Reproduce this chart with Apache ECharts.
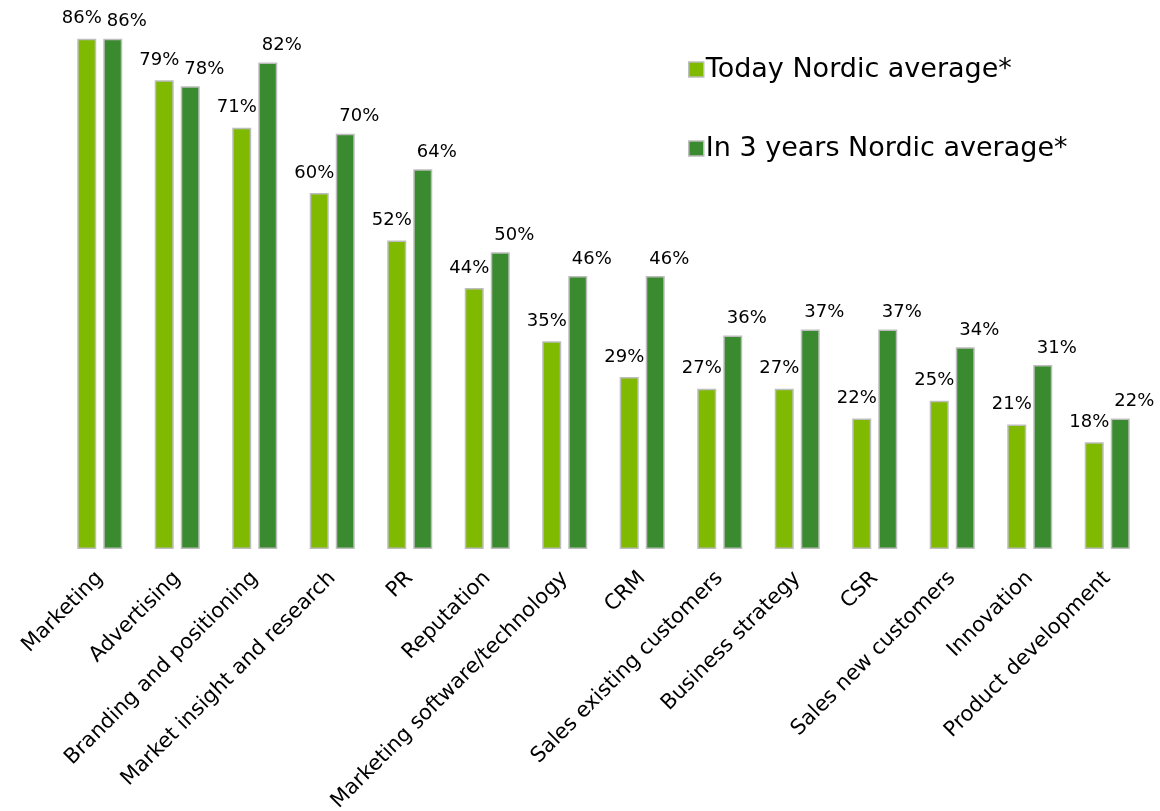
<!DOCTYPE html>
<html><head><meta charset="utf-8">
<script src="https://cdn.jsdelivr.net/npm/echarts@6/dist/echarts.min.js"></script>
<style>html,body{margin:0;padding:0;background:#fff}#c{width:1160px;height:811px}</style>
</head><body><div id="c"></div>
<script>
const categories = ["Marketing","Advertising","Branding and positioning","Market insight and research","PR","Reputation","Marketing software/technology","CRM","Sales existing customers","Business strategy","CSR","Sales new customers","Innovation","Product development"];
const todayValues = [86,79,71,60,52,44,35,29,27,27,22,25,21,18];
const in3YearsValues = [86,78,82,70,64,50,46,46,36,37,37,34,31,22];
const seriesNames = ["Today Nordic average*","In 3 years Nordic average*"];

const FONT = "DejaVu Sans";
const chart = echarts.init(document.getElementById('c'));
chart.setOption({
  animation:false,
  backgroundColor:'#fff',
  textStyle:{fontFamily:FONT,color:'#000'},
  legend:{
    orient:'vertical', left:683, top:51, itemWidth:15, itemHeight:15, itemGap:52,
    icon:'rect',
    itemStyle:{borderColor:'#bdbdbd',borderWidth:1.5},
    textStyle:{fontFamily:FONT,fontSize:27,color:'#000',padding:[0,0,0,-3]},
    data:seriesNames
  },
  grid:{left:61, right:14, top:15, bottom:262, containLabel:false, outerBoundsMode:'none'},
  xAxis:{type:'category',data:categories,
    axisLine:{show:false},axisTick:{show:false},
    axisLabel:{rotate:45,interval:0,fontSize:21,color:'#000',fontFamily:FONT,margin:26}
  },
  yAxis:{type:'value',min:0,max:90,show:false,splitLine:{show:false}},
  series:[
    {name:seriesNames[0],type:'bar',data:todayValues,barWidth:19,barGap:'37%',
     itemStyle:{color:'#7fba00',borderColor:'#bdbdbd',borderWidth:1.5},
     label:{show:true,position:'top',distance:5,offset:[-5,-6],formatter:'{c}%',fontSize:18,color:'#000',fontFamily:FONT}},
    {name:seriesNames[1],type:'bar',data:in3YearsValues,barWidth:19,
     itemStyle:{color:'#3a8a2f',borderColor:'#bdbdbd',borderWidth:1.5},
     label:{show:true,position:'top',distance:5,offset:[14,-3],formatter:'{c}%',fontSize:18,color:'#000',fontFamily:FONT}}
  ]
});
</script></body></html>
